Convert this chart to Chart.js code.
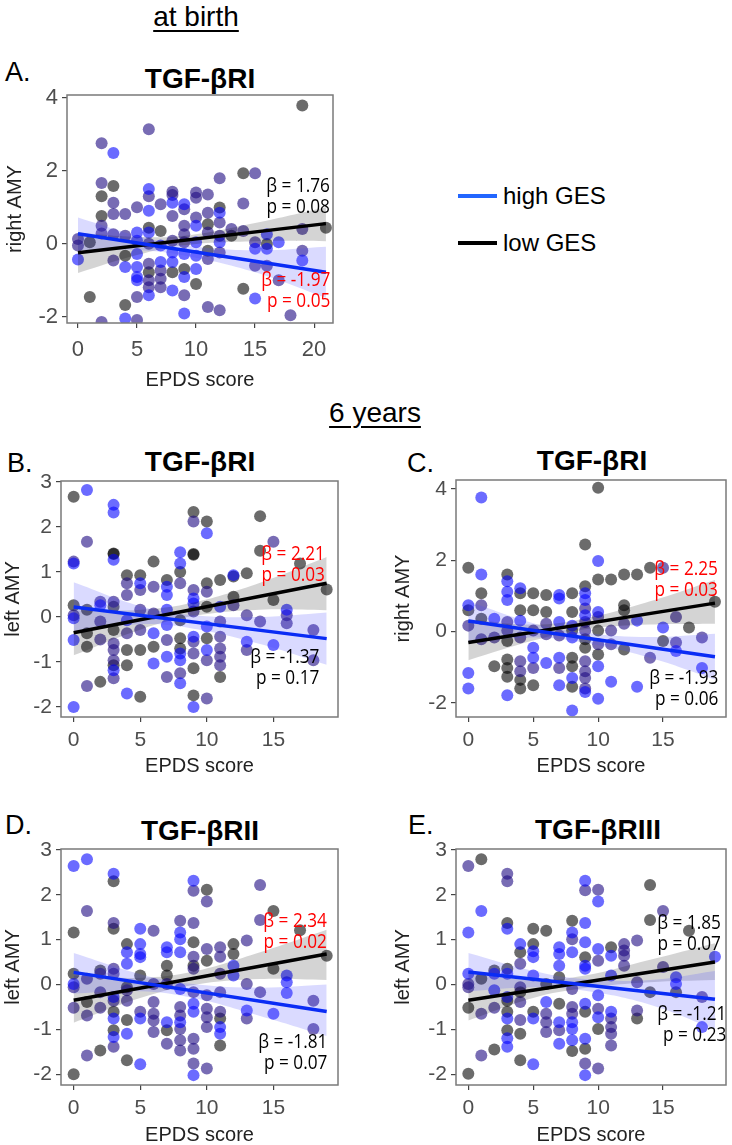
<!DOCTYPE html>
<html lang="en">
<head>
<meta charset="UTF-8" />
<title>EPDS score x GES - TGF-beta receptors and amygdala</title>
<script src="https://cdn.jsdelivr.net/npm/chart.js"></script>
<style>
  html, body { margin: 0; padding: 0; width: 732px; height: 1145px; overflow: hidden; background: #fff; }
  body { position: relative; font-family: "Liberation Sans", Arial, sans-serif; color: #000; }
  canvas { position: absolute; }
  .head { position: absolute; font-size: 28px; text-decoration: underline; text-underline-offset: 4px; transform: translate(-50%, -50%); white-space: nowrap; }
  .letter { position: absolute; font-size: 27px; line-height: 30px; }
  .ptitle { position: absolute; font-size: 28px; font-weight: bold; transform: translate(-50%, -50%); white-space: nowrap; }
  .note { position: absolute; font-family: "Open Sans", sans-serif; font-size: 20px; line-height: 21px; text-align: right; white-space: nowrap; transform: scaleX(0.86); transform-origin: right center; }
  .red { color: #ff0000; }
  .key { position: absolute; left: 458px; width: 39px; height: 4px; }
  .keytxt { position: absolute; left: 503px; font-size: 24px; line-height: 28px; }
</style>
</head>
<body>

<div class="head" style="left:196px; top:17px;">at birth</div>
<div class="head" style="left:375px; top:413px;">6 years</div>

<div class="letter" style="left:5px; top:57px;">A.</div>
<div class="letter" style="left:7px; top:448px;">B.</div>
<div class="letter" style="left:407px; top:448px;">C.</div>
<div class="letter" style="left:5px; top:810px;">D.</div>
<div class="letter" style="left:408px; top:810px;">E.</div>

<div class="ptitle" style="left:200px; top:79px;">TGF-βRI</div>
<div class="ptitle" style="left:200px; top:462px;">TGF-βRI</div>
<div class="ptitle" style="left:592px; top:461px;">TGF-βRI</div>
<div class="ptitle" style="left:200px; top:831px;">TGF-βRII</div>
<div class="ptitle" style="left:598px; top:830px;">TGF-βRIII</div>

<!-- legend -->
<div class="key" style="top:194px; background:#2266ff;"></div>
<div class="keytxt" style="top:182px;">high GES</div>
<div class="key" style="top:241px; background:#000;"></div>
<div class="keytxt" style="top:229px;">low GES</div>

<canvas id="chartA" width="353" height="317" style="left:0px; top:75px;"></canvas>
<canvas id="chartB" width="358" height="317" style="left:0px; top:461px;"></canvas>
<canvas id="chartC" width="342" height="318" style="left:390px; top:460px;"></canvas>
<canvas id="chartD" width="358" height="318" style="left:0px; top:829px;"></canvas>
<canvas id="chartE" width="342" height="318" style="left:390px; top:829px;"></canvas>

<!-- beta / p annotations -->
<div class="note" style="right:402px; top:174px;">β = 1.76<br>p = 0.08</div>
<div class="note red" style="right:402px; top:268px;">β = -1.97<br>p = 0.05</div>
<div class="note red" style="right:407px; top:542px;">β = 2.21<br>p = 0.03</div>
<div class="note" style="right:413px; top:645px;">β = -1.37<br>p = 0.17</div>
<div class="note red" style="right:14px; top:557px;">β = 2.25<br>p = 0.03</div>
<div class="note" style="right:14px; top:666px;">β = -1.93<br>p = 0.06</div>
<div class="note red" style="right:405px; top:909px;">β = 2.34<br>p = 0.02</div>
<div class="note" style="right:405px; top:1030px;">β = -1.81<br>p = 0.07</div>
<div class="note" style="right:11px; top:911px;">β = 1.85<br>p = 0.07</div>
<div class="note" style="right:6px; top:1002px;">β = -1.21<br>p = 0.23</div>

<script>
// ---- tick labels ----
const xTicksA = [0, 5, 10, 15, 20];
const xTicks6y = [0, 5, 10, 15];
const yTicksA = [-2, 0, 2, 4];
const yTicksC = [-2, 0, 2, 4];
const yTicksLeft = [-2, -1, 0, 1, 2, 3];

// ---- fitted lines (value at first and last EPDS score) ----
const fitXA = [0, 21];
const fitX6y = [0, 19];
const hiFitA = [0.27, -0.78];
const loFitA = [-0.25, 0.55];
const hiFitB = [0.22, -0.48];
const loFitB = [-0.35, 0.75];
const hiFitC = [0.3, -0.7];
const loFitC = [-0.3, 0.8];
const hiFitD = [0.27, -0.6];
const loFitD = [-0.35, 0.68];
const hiFitE = [0.28, -0.33];
const loFitE = [-0.35, 0.5];

// ---- confidence bands ----
const bandXA = [0, 5, 9, 15, 21];
const bandX6y = [0, 5, 9, 14, 19];
const hiUpA = [0.72, 0.22, -0.04, -0.18, -0.08];
const hiLowA = [-0.18, -0.18, -0.32, -0.78, -1.48];
const loUpA = [0.3, 0.19, 0.22, 0.57, 1.0];
const loLowA = [-0.8, -0.31, -0.04, 0.07, 0.07];
const hiUpB = [0.77, 0.24, 0.04, 0.0, 0.1];
const hiLowB = [-0.33, -0.16, -0.26, -0.6, -1.06];
const loUpB = [0.15, 0.16, 0.32, 0.76, 1.33];
const loLowB = [-0.85, -0.28, 0.02, 0.16, 0.15];
const hiUpC = [0.85, 0.24, -0.03, -0.15, -0.06];
const hiLowC = [-0.3, -0.16, -0.31, -0.73, -1.34];
const loUpC = [0.35, 0.2, 0.37, 0.85, 1.45];
const loLowC = [-0.8, -0.25, 0.07, 0.2, 0.22];
const hiUpD = [0.7, 0.23, 0.01, -0.07, 0.0];
const hiLowD = [-0.2, -0.15, -0.3, -0.7, -1.15];
const loUpD = [0.2, 0.15, 0.29, 0.72, 1.22];
const loLowD = [-0.85, -0.3, -0.01, 0.12, 0.1];
const hiUpE = [0.7, 0.3, 0.12, 0.1, 0.3];
const hiLowE = [-0.15, -0.06, -0.14, -0.45, -1.0];
const loUpE = [0.25, 0.1, 0.2, 0.55, 0.92];
const loLowE = [-0.8, -0.3, -0.08, 0.05, 0.1];

// ---- subjects: [EPDS score, AMY] ; hi = blue, lo = grey, mid = purple ----
const hiA = [[3,2.48],[6,1.5],[0,-0.43],[4,-0.64],[4,-2.05],[5,0.31],[5,0.08],[5,-0.28],[5,-0.64],[5,-0.91],[5,-1.0],[6,0.9],[6,0.31],[6,-1.41],[7,-0.05],[7,-0.5],[8,1.12],[8,-0.24],[8,-0.5],[8,-1.28],[9,1.08],[9,-0.28],[9,-0.91],[9,-1.91],[10,0.49],[10,0.04],[10,-0.33],[10,-0.69],[12,0.85],[12,0.04],[15,-0.14],[15,-1.5],[16,0.26],[16,-0.14],[17,0.04],[19,-0.46]];
const loA = [[19,3.78],[14,1.93],[3,1.58],[2,1.3],[2,0.76],[1,0.04],[1,-1.46],[4,-0.33],[4,-1.68],[6,0.44],[6,-0.78],[7,0.35],[8,-0.78],[9,-0.69],[10,-1.1],[11,0.53],[11,-0.19],[12,0.99],[13,0.22],[14,-1.23],[16,-0.01],[21,0.44]];
const midA = [[6,3.13],[2,2.75],[15,1.93],[12,1.79],[2,1.66],[8,1.42],[10,1.4],[6,1.3],[8,1.33],[10,1.26],[0,0.13],[0,-0.05],[2,0.49],[2,0.28],[2,-2.14],[3,1.12],[3,0.81],[3,0.26],[3,-0.46],[4,0.81],[4,0.22],[5,1.0],[5,-1.46],[5,-2.09],[6,0.0],[6,-0.55],[6,-1.0],[6,-1.19],[7,1.08],[7,-0.73],[7,-0.96],[7,-1.19],[8,0.76],[8,0.08],[9,0.94],[9,0.49],[9,0.26],[9,0.04],[9,-1.41],[10,0.72],[11,1.35],[11,0.85],[11,0.31],[11,-0.42],[11,-1.73],[12,0.58],[12,0.22],[12,-0.24],[12,-1.82],[13,0.4],[14,0.35],[14,1.1],[15,0.04],[15,-0.6],[16,-0.6],[17,-1.0],[18,-1.96],[19,0.4],[19,-0.19]];

const hiB = [[1,2.82],[3,2.49],[3,2.32],[10,1.86],[8,1.44],[0,1.19],[0,-0.03],[0,-0.51],[2,0.26],[3,1.27],[3,-1.18],[4,-0.07],[4,-1.7],[5,0.75],[6,-0.36],[6,-1.03],[7,0.67],[7,0.49],[7,0.16],[7,-0.18],[7,-0.88],[8,1.19],[8,-0.81],[8,-0.96],[8,-1.47],[9,0.41],[9,0.3],[9,-0.44],[10,-0.21],[10,-0.73],[11,0.23],[12,0.93],[13,-0.55],[15,-0.62],[16,0.16],[0,-2.0],[9,-2.0]];
const loB = [[0,2.67],[9,2.33],[10,2.12],[14,2.24],[14,1.47],[9,1.4],[3,1.4],[0,0.26],[1,0.16],[1,-0.36],[1,-0.66],[2,-1.44],[3,1.41],[3,0.23],[3,-0.29],[3,-1.07],[4,0.93],[4,-0.73],[4,-1.07],[5,0.93],[5,-0.73],[5,-1.77],[6,1.23],[6,-0.66],[7,0.82],[8,1.0],[8,-0.07],[8,-0.47],[8,-0.7],[9,1.38],[9,-1.14],[9,-1.74],[10,0.75],[10,0.23],[10,-0.47],[11,0.82],[11,-1.33],[12,0.9],[12,0.45],[13,0.97],[15,0.38],[17,1.19],[19,0.61]];
const midB = [[1,1.67],[15,1.67],[9,2.12],[0,1.23],[0,0.04],[1,-1.53],[2,0.34],[2,-0.1],[2,-0.5],[3,0.34],[3,-0.59],[3,-0.73],[3,-0.96],[3,-1.36],[4,0.75],[4,0.49],[4,-0.36],[5,0.6],[5,0.16],[5,-0.29],[6,0.67],[6,0.08],[7,-0.51],[7,-1.33],[8,0.75],[8,-1.25],[9,0.6],[9,0.12],[9,-0.55],[9,-0.81],[10,0.56],[10,-0.96],[10,-1.81],[11,-0.1],[11,-0.44],[11,-0.7],[11,-0.88],[11,-1.07],[12,0.26],[13,0.04],[13,-0.73],[14,-0.1],[16,0.04],[16,-0.14],[18,-0.29],[18,-0.96]];

const hiC = [[1,3.76],[10,1.98],[0,0.74],[0,-1.16],[0,-1.59],[1,1.6],[2,0.36],[3,1.41],[3,1.12],[3,0.89],[3,-1.78],[4,1.22],[4,0.31],[5,-0.45],[5,-0.73],[6,-0.88],[7,1.03],[7,0.93],[7,0.27],[7,-0.73],[7,-1.5],[8,0.17],[8,-0.16],[8,-1.3],[8,-2.21],[9,1.08],[9,0.89],[9,0.46],[9,-1.69],[10,0.55],[10,-0.97],[10,-1.88],[11,-1.4],[13,0.31],[13,-1.54],[15,0.12],[16,-0.54],[18,-1.02]];
const loC = [[10,4.03],[9,2.44],[0,1.79],[0,0.6],[1,1.08],[1,0.36],[2,-0.97],[3,1.6],[3,-0.26],[3,-1.02],[3,-1.26],[3,-0.78],[4,1.08],[4,0.6],[4,-1.59],[4,-1.35],[5,1.08],[5,0.6],[5,-1.5],[6,1.03],[6,0.55],[8,1.08],[8,0.55],[8,0.03],[8,-0.73],[8,-0.97],[8,-1.54],[9,1.27],[9,-0.21],[9,-0.45],[10,1.46],[10,0.03],[10,-0.64],[11,1.46],[12,1.6],[12,0.74],[12,0.6],[12,-0.5],[13,1.6],[14,1.79],[15,-0.26],[17,0.12],[19,0.84]];
const midC = [[0,0.17],[1,0.74],[1,-0.21],[2,-0.16],[3,0.27],[3,0.03],[4,-0.16],[4,-0.83],[4,-1.11],[5,0.03],[5,-1.02],[6,0.22],[6,-0.07],[7,-0.11],[7,-1.02],[9,0.65],[9,0.27],[9,0.03],[9,-0.83],[9,-1.11],[9,-1.3],[9,-1.59],[10,0.41],[10,-0.35],[11,0.03],[11,-0.35],[12,0.22],[14,-0.73],[15,1.79],[16,0.41],[16,-0.3],[18,-0.16]];

const hiD = [[0,2.64],[1,2.79],[3,2.47],[9,2.31],[5,1.24],[8,1.16],[8,1.01],[8,0.72],[4,0.72],[5,0.9],[5,0.68],[7,0.83],[7,0.72],[0,0.01],[3,-0.28],[3,-0.76],[3,-1.17],[4,0.46],[4,-1.1],[5,0.61],[5,-0.76],[5,-1.78],[7,-0.84],[8,-0.1],[8,-0.84],[9,-0.43],[9,-0.61],[9,-2.02],[11,-0.95],[11,-1.1],[12,0.42],[12,0.2],[13,-0.58],[15,-0.65],[16,0.2],[16,0.05],[16,-0.19]];
const loD = [[3,2.3],[0,1.16],[10,2.11],[15,1.64],[17,1.21],[3,1.24],[9,0.94],[12,0.9],[12,0.68],[4,0.9],[19,0.64],[0,0.24],[0,-2.0],[1,-0.39],[2,0.31],[2,-1.47],[3,-0.61],[3,-1.02],[4,-0.06],[4,-0.79],[4,-1.69],[5,0.2],[7,0.42],[7,0.2],[7,-1.02],[9,0.42],[10,0.53],[11,-0.76],[11,-1.36],[15,0.35]];
const midD = [[1,1.64],[9,2.09],[10,1.85],[14,2.22],[14,1.44],[8,1.42],[9,1.37],[3,1.37],[6,1.2],[10,0.79],[11,0.83],[13,0.98],[9,0.62],[11,0.62],[0,-0.06],[0,-0.52],[1,0.13],[1,-0.69],[1,-1.58],[2,0.24],[2,-0.17],[2,-0.52],[3,0.35],[3,0.24],[3,-1.39],[3,-0.36],[4,-0.13],[4,-0.36],[5,-0.61],[6,0.01],[6,-0.39],[6,-0.65],[6,-1.06],[6,-0.8],[7,0.01],[7,-1.32],[8,-0.5],[8,-0.69],[8,-0.99],[8,-1.24],[8,-1.47],[9,0.35],[9,-0.17],[9,-1.21],[9,-1.43],[9,-1.76],[10,-0.24],[10,-0.54],[10,-0.73],[10,-0.95],[10,-1.87],[11,0.24],[11,-0.17],[11,-0.61],[13,0.01],[13,-0.76],[14,-0.17],[18,-0.36],[18,-0.99]];

const hiE = [[1,1.64],[0,1.16],[9,2.31],[10,1.85],[9,1.37],[3,1.24],[8,1.16],[8,0.72],[9,0.94],[10,0.79],[4,0.9],[5,0.74],[7,0.83],[11,0.64],[19,0.62],[0,0.24],[2,0.24],[2,-0.13],[3,0.24],[3,-0.28],[3,-0.76],[3,-1.2],[3,-1.39],[5,0.61],[5,0.2],[5,-0.76],[5,-1.78],[6,-0.39],[7,0.68],[7,0.42],[7,-0.84],[7,-1.32],[8,-0.84],[8,-0.99],[8,-1.24],[9,0.42],[9,0.35],[9,-0.43],[9,-1.21],[9,-2.02],[10,-0.24],[10,-0.73],[11,0.2],[11,-0.61],[16,0.16],[16,0.01],[18,-0.95]];
const loE = [[1,2.79],[14,2.22],[14,1.44],[17,1.2],[8,1.42],[3,1.37],[5,1.24],[6,1.2],[11,0.83],[4,0.72],[5,0.9],[0,-0.52],[0,-1.99],[1,0.13],[2,0.31],[2,-1.45],[3,0.35],[3,-0.61],[3,-1.02],[3,-0.36],[4,-0.17],[4,-1.1],[4,-1.69],[5,-0.61],[6,0.01],[7,0.16],[7,-0.43],[8,-1.48],[9,0.61],[9,-0.61],[9,-1.43],[10,-0.99],[13,-0.76],[14,-0.17],[16,-0.17]];
const midE = [[0,2.64],[3,2.47],[3,2.3],[9,2.1],[10,2.11],[15,1.64],[8,1.01],[12,0.9],[13,0.98],[12,0.76],[0,0.01],[0,-0.06],[1,-0.65],[1,-1.58],[2,-0.52],[4,0.46],[4,-0.06],[4,-0.39],[4,-0.79],[6,-0.65],[6,-1.06],[6,-0.84],[7,-1.02],[8,-0.1],[8,-0.5],[8,-0.65],[9,-1.76],[10,0.53],[10,-0.54],[10,-1.87],[11,-0.76],[11,-0.95],[11,-1.1],[11,-1.36],[12,0.64],[12,0.42],[13,0.05],[13,-0.58],[15,0.39],[18,-0.28]];

const FONT = '"Liberation Sans", Arial, sans-serif';

function pts(arr) { return arr.map(p => ({ x: p[0], y: p[1] })); }
function curve(xs, ys) { return xs.map((x, i) => ({ x: x, y: ys[i] })); }

// grey frame round the panel, like theme_bw
const boxPlugin = {
  id: 'box',
  afterDraw(chart) {
    const a = chart.chartArea, ctx = chart.ctx;
    ctx.save();
    ctx.strokeStyle = '#7a7a7a';
    ctx.lineWidth = 1.5;
    ctx.strokeRect(a.left, a.top, a.right - a.left, a.bottom - a.top);
    ctx.restore();
  }
};

function makePanel(id, p) {
  const band = (ys, fill, color) => ({
    type: 'line', data: curve(p.bandX, ys), borderWidth: 0, borderColor: 'transparent',
    pointRadius: 0, fill: fill, backgroundColor: color, tension: 0.4, order: 1
  });
  const dots = (arr, color) => ({
    data: pts(arr), backgroundColor: color, borderWidth: 0, pointRadius: 6, order: 2
  });
  new Chart(document.getElementById(id), {
    type: 'scatter',
    data: {
      datasets: [
        { type: 'line', data: curve(p.fitX, p.hiFit), borderColor: '#0a2cf5', borderWidth: 3.5, pointRadius: 0, fill: false, order: 0 },
        { type: 'line', data: curve(p.fitX, p.loFit), borderColor: '#000', borderWidth: 3.5, pointRadius: 0, fill: false, order: 0 },
        band(p.hiUp, '+1', 'rgba(70,70,255,0.2)'),
        band(p.hiLow, false, 'transparent'),
        band(p.loUp, '+1', 'rgba(0,0,0,0.17)'),
        band(p.loLow, false, 'transparent'),
        dots(p.hi, 'rgba(0,0,255,0.58)'),
        dots(p.mid, 'rgba(30,10,130,0.6)'),
        dots(p.lo, 'rgba(0,0,0,0.58)')
      ]
    },
    options: {
      responsive: false,
      animation: false,
      devicePixelRatio: 1,
      layout: { padding: { top: 20, right: p.padRight, left: 0, bottom: 0 } },
      plugins: { legend: { display: false }, tooltip: { enabled: false } },
      scales: {
        x: {
          type: 'linear', min: p.xMin, max: p.xMax,
          afterBuildTicks: s => { s.ticks = p.xTicks.map(v => ({ value: v })); },
          afterFit: s => { s.height = p.xH; },
          ticks: { color: '#4d4d4d', font: { size: p.tickSize, family: FONT }, padding: p.tickPad, maxRotation: 0, autoSkip: false },
          grid: { drawOnChartArea: false, drawTicks: true, tickLength: 5, color: '#444', lineWidth: 1.2 },
          border: { display: false },
          title: { display: true, text: 'EPDS score', color: '#222', font: { size: 20, family: FONT }, padding: 0 }
        },
        y: {
          type: 'linear', min: p.yMin, max: p.yMax,
          afterBuildTicks: s => { s.ticks = p.yTicks.map(v => ({ value: v })); },
          afterFit: s => { s.width = p.yW; },
          ticks: { color: '#4d4d4d', font: { size: p.tickSize, family: FONT }, padding: 4, autoSkip: false },
          grid: { drawOnChartArea: false, drawTicks: true, tickLength: 5, color: '#444', lineWidth: 1.2 },
          border: { display: false },
          title: { display: true, text: p.yTitle, color: '#222', font: { size: 20, family: FONT }, padding: { top: p.titlePad, bottom: 0 } }
        }
      }
    },
    plugins: [boxPlugin]
  });
}

const at6y = { xMin: -0.95, xMax: 19.85, xTicks: xTicks6y, fitX: fitX6y, bandX: bandX6y, tickSize: 21, tickPad: 6 };

makePanel('chartA', {
  xMin: -0.93, xMax: 21.6, yMin: -2.17, yMax: 4.07, xTicks: xTicksA, yTicks: yTicksA,
  yTitle: 'right AMY', yW: 67, xH: 69, tickSize: 22, tickPad: 9, titlePad: 3, padRight: 20,
  fitX: fitXA, hiFit: hiFitA, loFit: loFitA, bandX: bandXA,
  hiUp: hiUpA, hiLow: hiLowA, loUp: loUpA, loLow: loLowA, hi: hiA, lo: loA, mid: midA
});
makePanel('chartB', Object.assign({}, at6y, {
  yMin: -2.22, yMax: 3.02, yTicks: yTicksLeft, yTitle: 'left AMY', yW: 61, xH: 61, titlePad: 1, padRight: 20,
  hiFit: hiFitB, loFit: loFitB, hiUp: hiUpB, hiLow: hiLowB, loUp: loUpB, loLow: loLowB, hi: hiB, lo: loB, mid: midB
}));
makePanel('chartC', Object.assign({}, at6y, {
  yMin: -2.39, yMax: 4.25, yTicks: yTicksC, yTitle: 'right AMY', yW: 66, xH: 61, titlePad: 1, padRight: 3,
  hiFit: hiFitC, loFit: loFitC, hiUp: hiUpC, hiLow: hiLowC, loUp: loUpC, loLow: loLowC, hi: hiC, lo: loC, mid: midC
}));
makePanel('chartD', Object.assign({}, at6y, {
  yMin: -2.24, yMax: 3.02, yTicks: yTicksLeft, yTitle: 'left AMY', yW: 61, xH: 62, titlePad: 1, padRight: 20,
  hiFit: hiFitD, loFit: loFitD, hiUp: hiUpD, hiLow: hiLowD, loUp: loUpD, loLow: loLowD, hi: hiD, lo: loD, mid: midD
}));
makePanel('chartE', Object.assign({}, at6y, {
  yMin: -2.24, yMax: 3.02, yTicks: yTicksLeft, yTitle: 'left AMY', yW: 66, xH: 62, titlePad: 1, padRight: 3,
  hiFit: hiFitE, loFit: loFitE, hiUp: hiUpE, hiLow: hiLowE, loUp: loUpE, loLow: loLowE, hi: hiE, lo: loE, mid: midE
}));
</script>

</body>
</html>
